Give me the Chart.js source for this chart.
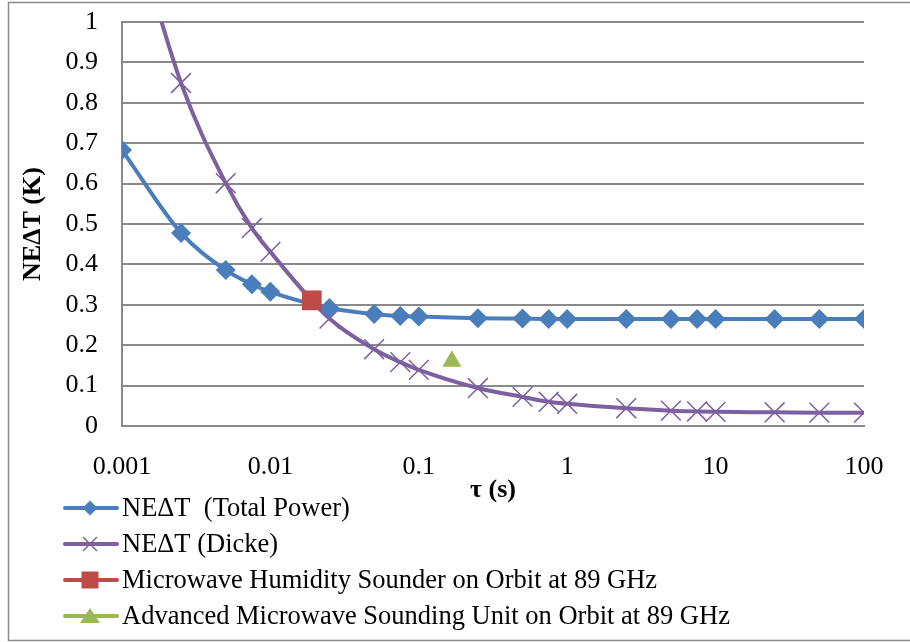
<!DOCTYPE html>
<html lang="en">
<head>
<meta charset="UTF-8">
<title>NEΔT vs integration time</title>
<script src="https://cdn.jsdelivr.net/npm/chart.js"></script>
<style>
  html, body { margin: 0; padding: 0; background: #fff; }
  #wrap { width: 910px; height: 642px; position: relative; }
</style>
</head>
<body>
<div id="wrap"><canvas id="neChart"></canvas></div>
<script>
// integration time (s) and the two curves
const tau = [0.001, 0.0025, 0.005, 0.0075, 0.01, 0.025, 0.05, 0.075, 0.1, 0.25,
             0.5, 0.75, 1, 2.5, 5, 7.5, 10, 25, 50, 100];
const totalPower = [0.683, 0.478, 0.386, 0.351, 0.332, 0.292, 0.277, 0.272, 0.271, 0.267,
                    0.266, 0.265, 0.265, 0.265, 0.265, 0.265, 0.265, 0.265, 0.265, 0.265];
const dicke = [1.34, 0.849, 0.601, 0.49, 0.431, 0.266, 0.19, 0.158, 0.139, 0.094,
               0.072, 0.06, 0.055, 0.044, 0.038, 0.036, 0.035, 0.034, 0.033, 0.033];
const mhsPoint = [0.019, 0.311];   // [tau, NEdT]
const amsuPoint = [0.167, 0.16];
const xTicks = [0.001, 0.01, 0.1, 1, 10, 100];
const seriesLabels = ['NE\u0394T  (Total Power)', 'NE\u0394T (Dicke)',
  'Microwave Humidity Sounder on Orbit at 89 GHz',
  'Advanced Microwave Sounding Unit on Orbit at 89 GHz'];

const BLUE = '#4a7ebb', PURPLE = '#7d60a0', RED = '#be4b48', GREEN = '#98b954';
const FONT = 'Liberation Serif, Times New Roman, serif';

function pts(xs, ys) { return xs.map((x, i) => ({ x: x, y: ys[i] })); }

function marker(ctx, style, x, y, r, color) {
  ctx.save();
  ctx.fillStyle = color;
  ctx.strokeStyle = color;
  ctx.beginPath();
  if (style === 'rectRot') {
    ctx.moveTo(x, y - r); ctx.lineTo(x + r, y); ctx.lineTo(x, y + r); ctx.lineTo(x - r, y);
    ctx.closePath(); ctx.fill();
  } else if (style === 'crossRot') {
    ctx.lineWidth = 1.5;
    ctx.moveTo(x - r, y - r); ctx.lineTo(x + r, y + r);
    ctx.moveTo(x + r, y - r); ctx.lineTo(x - r, y + r);
    ctx.stroke();
  } else if (style === 'rect') {
    ctx.rect(x - r, y - r, 2 * r, 2 * r); ctx.fill();
  } else if (style === 'triangle') {
    ctx.moveTo(x, y - r * 0.8); ctx.lineTo(x + r, y + r * 0.7); ctx.lineTo(x - r, y + r * 0.7);
    ctx.closePath(); ctx.fill();
  }
  ctx.restore();
}

// frame round the chart + legend drawn as line-with-marker rows
const framePlugin = {
  id: 'frame',
  beforeDraw(chart) {
    const c = chart.ctx;
    c.save();
    c.strokeStyle = '#8a8a8a';
    c.lineWidth = 1.5;
    c.beginPath();
    c.moveTo(912, 2.5); c.lineTo(8.5, 2.5); c.lineTo(8.5, 640.5); c.lineTo(912, 640.5);
    c.stroke();
    c.restore();
  },
  afterDraw(chart) {
    const c = chart.ctx;
    const styles = ['rectRot', 'crossRot', 'rect', 'triangle'];
    const colors = [BLUE, PURPLE, RED, GREEN];
    const sizes = [7.5, 6.5, 8.5, 10];
    c.save();
    c.font = '26.5px ' + FONT;
    c.textBaseline = 'middle';
    c.fillStyle = '#000';
    seriesLabels.forEach((lab, i) => {
      const y = 508 + i * 36;
      c.strokeStyle = colors[i];
      c.lineWidth = 4;
      c.lineCap = 'round';
      c.beginPath(); c.moveTo(65, y); c.lineTo(117, y); c.stroke();
      marker(c, styles[i], 90, y, sizes[i], colors[i]);
      c.fillText(lab, 122, y + 1);
    });
    c.restore();
  }
};

new Chart(document.getElementById('neChart'), {
  type: 'line',
  data: {
    datasets: [
      { label: seriesLabels[0], data: pts(tau, totalPower), borderColor: BLUE, backgroundColor: BLUE,
        borderWidth: 4, pointStyle: 'rectRot', pointRadius: 10, pointBorderWidth: 0,
        cubicInterpolationMode: 'monotone', order: 2 },
      { label: seriesLabels[1], data: pts(tau, dicke), borderColor: PURPLE, backgroundColor: PURPLE,
        borderWidth: 4, pointStyle: 'crossRot', pointRadius: 14, pointBorderWidth: 1.5,
        cubicInterpolationMode: 'monotone', order: 3 },
      { label: seriesLabels[2], data: [{ x: mhsPoint[0], y: mhsPoint[1] }], showLine: false,
        borderColor: RED, backgroundColor: RED, pointStyle: 'rect', pointRadius: 14, pointBorderWidth: 0, order: 1 },
      { label: seriesLabels[3], data: [{ x: amsuPoint[0], y: amsuPoint[1] }], showLine: false,
        borderColor: GREEN, backgroundColor: GREEN, pointStyle: 'triangle', pointRadius: 11, pointBorderWidth: 0, order: 1 }
    ]
  },
  options: {
    responsive: true,
    maintainAspectRatio: false,
    animation: false,
    layout: { padding: { left: 0, top: 22, right: 46, bottom: 136 } },
    plugins: { legend: { display: false }, tooltip: { enabled: false } },
    scales: {
      x: {
        type: 'logarithmic', min: 0.001, max: 100,
        afterBuildTicks: s => { s.ticks = xTicks.map(v => ({ value: v })); },
        afterFit: s => { s.height = 80; s.paddingLeft = 0; s.paddingRight = 0; },
        grid: { display: false, drawTicks: false },
        border: { display: true, color: '#8a8a8a', width: 2 },
        ticks: { color: '#000', font: { family: FONT, size: 26 }, padding: 26, maxRotation: 0,
                 callback: v => String(v) },
        title: { display: true, text: '\u03c4 (s)', color: '#000', padding: { top: 0, bottom: 0 },
                 font: { family: FONT, size: 26, weight: 'bold' } }
      },
      y: {
        min: 0, max: 1,
        afterFit: s => { s.width = 122; s.paddingTop = 0; s.paddingBottom = 0; },
        grid: { color: '#8a8a8a', lineWidth: 2, drawTicks: false },
        border: { display: true, color: '#8a8a8a', width: 2 },
        ticks: { stepSize: 0.1, color: '#000', font: { family: FONT, size: 26 }, padding: 24,
                 callback: v => String(Math.round(v * 10) / 10) },
        title: { display: true, text: 'NE\u0394T (K)', color: '#000', padding: { top: 18, bottom: 0 },
                 font: { family: FONT, size: 26, weight: 'bold' } }
      }
    }
  },
  plugins: [framePlugin]
});
</script>
</body>
</html>
